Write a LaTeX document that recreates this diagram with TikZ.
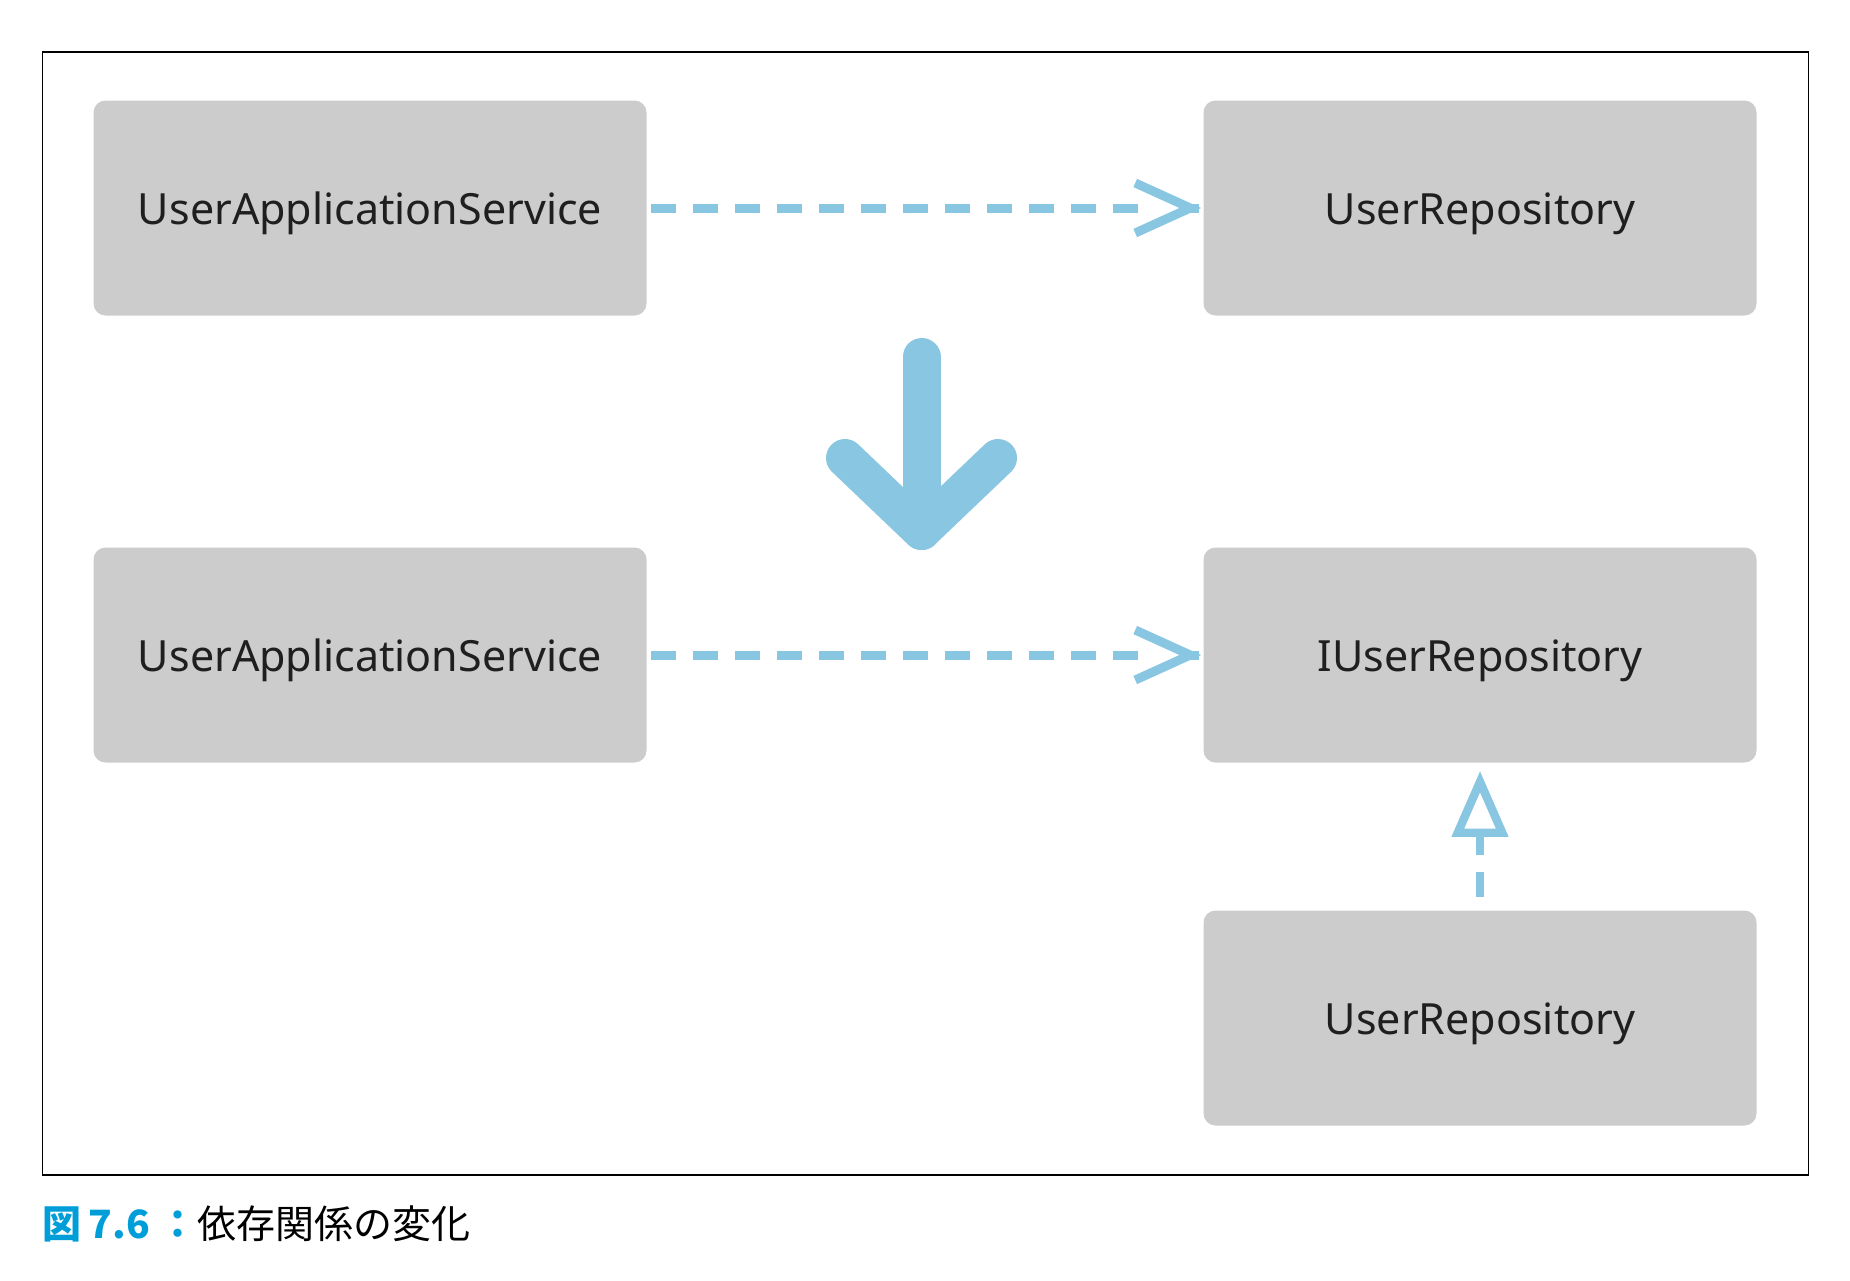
\documentclass[tikz,border=0pt]{standalone}
\usepackage{fontspec}
\setmainfont{Noto Sans}
\newfontfamily\jpfont{Noto Sans CJK JP}
\usepackage{xcolor}
\usetikzlibrary{arrows.meta, positioning}
\definecolor{boxgray}{RGB}{204,204,204}
\definecolor{depblue}{RGB}{137,198,226}
\definecolor{capblue}{RGB}{0,158,217}

\begin{document}
\begin{tikzpicture}[x=0.5pt, y=-0.5pt,
    box/.style={fill=boxgray, rounded corners=6pt, inner sep=0pt,
        minimum width=276.5pt, minimum height=107.5pt,
        text height=16pt, text depth=0pt,
        text=black!88, font=\fontsize{21.5}{26}\selectfont},
    dep/.style={draw=depblue, line width=4.5pt, dash pattern=on 12.5pt off 8.5pt},
    barb/.style={draw=depblue, line width=4.5pt,
        -{Straight Barb[length=27.5pt, width=25pt, line join=miter]}},
    real/.style={draw=depblue, line width=4.2pt, dash pattern=on 12.5pt off 8.5pt,
        -{Triangle[open, length=33pt, width=27.5pt, fill=white]}}]
    \useasboundingbox (0,0) rectangle (1850,1280);
    % 枠
    \draw[line width=0.75pt] (42.5,52) rectangle (1808.7,1175);

    % 変更前
    \node[box] (uasA) at (370,208) {UserApplicationService};
    \node[box] (repoA) at (1480,208) {UserRepository};
    \draw[dep] ([xshift=2pt]uasA.east) -- ([xshift=-31pt]repoA.west);
    \draw[barb] ([xshift=-2pt]repoA.west) -- ([xshift=-1pt]repoA.west);

    % 大きな矢印
    \draw[depblue, line width=19pt, line cap=round, line join=round]
        (921.5,357) -- (921.5,531);
    \draw[depblue, line width=19pt, line cap=round, line join=round]
        (845,458) -- (921.5,531) -- (998,458);

    % 変更後
    \node[box] (uasB) at (370,655) {UserApplicationService};
    \node[box] (irepo) at (1480,655) {IUserRepository};
    \node[box] (repoB) at (1480,1018) {UserRepository};
    \draw[dep] ([xshift=2pt]uasB.east) -- ([xshift=-31pt]irepo.west);
    \draw[barb] ([xshift=-2pt]irepo.west) -- ([xshift=-1pt]irepo.west);
    \draw[real] ([yshift=6.5pt]repoB.north) -- ([yshift=-4pt]irepo.south);

    % キャプション
    \node[anchor=west, inner sep=0pt, font=\jpfont\fontsize{19.5}{24}\selectfont] (caption)
        at (42.5,1224) {\textcolor{capblue}{\bfseries 図\hspace{3.5pt}7.6\hspace{4pt}：}依存関係の変化};
\end{tikzpicture}
\end{document}
